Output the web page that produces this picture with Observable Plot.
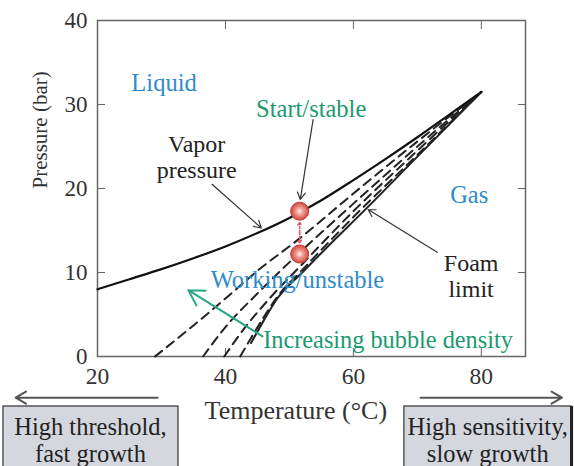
<!DOCTYPE html>
<html><head><meta charset="utf-8">
<script src="https://cdn.jsdelivr.net/npm/d3@7"></script>
<script src="https://cdn.jsdelivr.net/npm/@observablehq/plot@0.6"></script>
<style>body{margin:0;background:#fff}</style>
</head><body><div id="chart"></div>
<script>
// Vapor pressure curve
const vaporTemp = [20,25,30,35,40,45,50,55,60,65,70,75,80];
const vaporPres = [8.0,9.2,10.4,11.7,13.1,14.7,16.5,18.6,21.0,23.5,26.1,28.8,31.5];
// Bubble-density (dashed) curves
const bubbleATemp = [29,35,40,45,51.5,60,70,80];
const bubbleAPres = [0,3.7,6.9,10.2,14.0,19.4,25.6,31.5];
const bubbleBTemp = [36.5,40,45,51.5,60,70,80];
const bubbleBPres = [0,3.5,7.5,12.3,18.2,25.0,31.5];
const bubbleCTemp = [39.8,43,47,51.5,60,70,80];
const bubbleCPres = [0,3.4,7.0,10.6,17.3,24.5,31.5];
const bubbleDTemp = [42.3,44,46,48,52,60,70,80];
const bubbleDPres = [0,2.2,4.7,7.0,10.3,16.6,24.0,31.5];
// Foam limit (solid)
const foamTemp = [44,46,48.1,52,56,62,70,80];
const foamPres = [1.6,4.3,6.9,10.0,13.1,17.6,23.8,31.5];
// State points (start/stable, working/unstable)
const stateTemp = [51.6, 51.6];
const statePres = [17.3, 12.2];
// Tick values
const xTicks = [20,40,60,80];
const yTicks = [0,10,20,30,40];

const zip = (t, p, extra={}) => t.map((d,i) => ({t: d, p: p[i], ...extra}));
const vapor = zip(vaporTemp, vaporPres);
const bubbles = [
  zip(bubbleATemp, bubbleAPres, {k:"A"}),
  zip(bubbleBTemp, bubbleBPres, {k:"B"}),
  zip(bubbleCTemp, bubbleCPres, {k:"C"}),
  zip(bubbleDTemp, bubbleDPres, {k:"D"})
].flat();
const foam = zip(foamTemp, foamPres);
const states = zip(stateTemp, statePres);

// annotation labels
const blueLabels = [
  {t:30.4, p:32.5, s:"Liquid"},
  {t:78.1, p:19.2, s:"Gas"},
  {t:51.25, p:9.05, s:"Working/unstable"}
];
const blackLabels = [
  {t:35.5, p:23.75, s:"Vapor\npressure"},
  {t:78.4, p:9.6, s:"Foam\nlimit"}
];
const blackArrows = [
  {t1:53.7, p1:28.2, t2:51.7, p2:18.7},
  {t1:37.9, p1:20.5, t2:45.6, p2:15.3},
  {t1:73.1, p1:12.4, t2:62.3, p2:17.5}
];
const greenArrow = [{t1:45.8, p1:2.4, t2:34.2, p2:7.9}];
const redArrows = [
  {t1:51.6, p1:14.75, t2:51.6, p2:16.0},
  {t1:51.6, p1:14.75, t2:51.6, p2:13.5}
];
const sideArrows = [
  {t1:29.4, p1:-4.9, t2:7.2, p2:-4.9},
  {t1:70.5, p1:-4.9, t2:92.6, p2:-4.9}
];
const boxes = [
  {x1:5.3, x2:32.66, y1:-5.95, y2:-14},
  {x1:67.97, x2:94.1, y1:-5.95, y2:-14}
];
const boxTexts = [
  {t:18.9, p:-9.9, s:"High threshold,\nfast growth"},
  {t:81.0, p:-9.9, s:"High sensitivity,\nslow growth"}
];
const axisTitles = [
  {t:51.0, p:-6.45, s:"Temperature (°C)"}
];

const defs = () => {
  const d = d3.create("svg:defs");
  const g = d.append("radialGradient").attr("id","dotGrad").attr("cx","50%").attr("cy","50%").attr("r","50%");
  g.append("stop").attr("offset","0%").attr("stop-color","#fff3ee");
  g.append("stop").attr("offset","35%").attr("stop-color","#f0a49a");
  g.append("stop").attr("offset","100%").attr("stop-color","#d2473f");
  return d.node();
};

const chart = Plot.plot({
  width: 574, height: 466,
  marginLeft: 97, marginRight: 49, marginTop: 20, marginBottom: 110,
  style: {fontFamily: "'Liberation Serif', 'DejaVu Serif', serif", background: "#fff"},
  x: {domain: [20, 86.9]},
  y: {domain: [0, 40]},
  marks: [
    defs,
    Plot.frame({stroke: "#666", strokeWidth: 1.5}),
    Plot.axisX({ticks: xTicks, tickSize: -8, tickPadding: 19, fontSize: 23.5, label: null, stroke: "#666", fill: "#333"}),
    Plot.axisX({anchor: "top", ticks: xTicks, tickSize: -8, tickFormat: () => "", label: null, stroke: "#666"}),
    Plot.axisY({ticks: yTicks, tickSize: -8, tickPadding: 18, fontSize: 23, label: null, stroke: "#666", fill: "#333"}),
    Plot.axisY({anchor: "right", ticks: yTicks, tickSize: -8, tickFormat: () => "", label: null, stroke: "#666"}),
    Plot.text(["Pressure (bar)"], {frameAnchor: "left", dx: -57, rotate: -90, fontSize: 21, fill: "#333"}),
    Plot.text(axisTitles, {x: "t", y: "p", text: "s", fontSize: 26, fill: "#333"}),
    // curves
    Plot.line(bubbles, {x: "t", y: "p", z: "k", curve: "monotone-x", stroke: "#222", strokeWidth: 2, strokeDasharray: "9,6"}),
    Plot.line(foam, {x: "t", y: "p", curve: "monotone-x", stroke: "#222", strokeWidth: 2}),
    Plot.line(vapor, {x: "t", y: "p", curve: "monotone-x", stroke: "#111", strokeWidth: 2.2}),
    // arrows
    Plot.arrow(blackArrows, {x1: "t1", y1: "p1", x2: "t2", y2: "p2", stroke: "#333", strokeWidth: 1.2, headLength: 10}),
    Plot.arrow(greenArrow, {x1: "t1", y1: "p1", x2: "t2", y2: "p2", stroke: "#2aa587", strokeWidth: 2, headLength: 13}),
    Plot.arrow(redArrows, {x1: "t1", y1: "p1", x2: "t2", y2: "p2", stroke: "#e35d6a", strokeWidth: 1.6, strokeDasharray: "2,2", headLength: 6}),
    Plot.dot(states, {x: "t", y: "p", r: 9, fill: "url(#dotGrad)", stroke: "#c23b33", strokeWidth: 1}),
    // labels
    Plot.text(blueLabels, {x: "t", y: "p", text: "s", fill: "#2e8bc9", fontSize: 24.5}),
    Plot.text(blackLabels, {x: "t", y: "p", text: "s", fill: "#222", fontSize: 24, lineHeight: 1.05}),
    Plot.text(["Start/stable"], {x: 53.4, y: 29.5, fill: "#1b9a6f", fontSize: 24.5}),
    Plot.text(["Increasing bubble density"], {x: 45.9, y: 1.9, fill: "#1b9a6f", fontSize: 24.3, textAnchor: "start"}),
    // bottom annotations
    Plot.arrow(sideArrows, {x1: "t1", y1: "p1", x2: "t2", y2: "p2", stroke: "#555", strokeWidth: 2, headLength: 9}),
    Plot.rect(boxes, {x1: "x1", x2: "x2", y1: "y1", y2: "y2", fill: "#d4d7de", stroke: "#333", strokeWidth: 1.2}),
    Plot.ruleX([94.1], {y1: -5.95, y2: -14, stroke: "#222", strokeWidth: 3}),
    Plot.text(boxTexts, {x: "t", y: "p", text: "s", fill: "#222", fontSize: 24.5, lineHeight: 1.1})
  ]
});
document.getElementById("chart").appendChild(chart);
</script>
</body></html>
